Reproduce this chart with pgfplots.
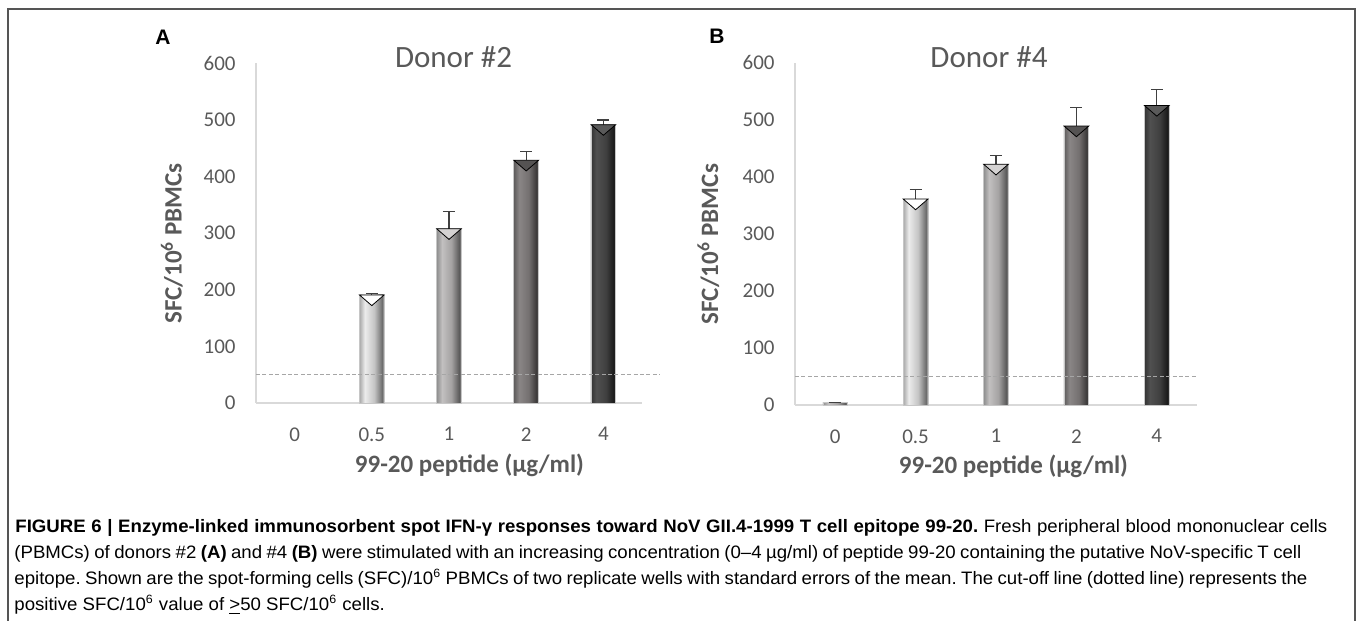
\documentclass[border=0pt]{standalone}
\usepackage{pgfplots}
\pgfplotsset{compat=1.18}
\usepackage{fontspec}
\setmainfont{Carlito}
\newfontfamily\capfont[FakeStretch=1.035]{Liberation Sans}
\newfontfamily\letterfont{Liberation Sans}

\definecolor{txtgray}{HTML}{595959}
\definecolor{axgray}{HTML}{D9D9D9}
\definecolor{cutgray}{HTML}{A6A6A6}
\definecolor{errgray}{HTML}{404040}
\definecolor{framegray}{HTML}{555555}

% bar shadings: left, highlight, mid, dark
\definecolor{aL}{HTML}{A8A8A8}\definecolor{aH}{HTML}{ECECEC}\definecolor{aM}{HTML}{C4C4C4}\definecolor{aD}{HTML}{6C6C6C}
\definecolor{bL}{HTML}{8E8E8E}\definecolor{bH}{HTML}{C2C0C0}\definecolor{bM}{HTML}{A4A2A2}\definecolor{bD}{HTML}{585858}
\definecolor{cL}{HTML}{5E5C5C}\definecolor{cH}{HTML}{8A8686}\definecolor{cM}{HTML}{747070}\definecolor{cD}{HTML}{3A3838}
\definecolor{dL}{HTML}{343434}\definecolor{dH}{HTML}{505050}\definecolor{dM}{HTML}{404040}\definecolor{dD}{HTML}{1A1A1A}
\newcommand\barshade[5]{\pgfdeclarehorizontalshading{#1}{100bp}{color(0bp)=(#2); color(25bp)=(#2); color(36bp)=(#3); color(55bp)=(#4); color(71bp)=(#5); color(75bp)=(#4); color(100bp)=(#4)}}
\barshade{shA}{aL}{aH}{aM}{aD}
\barshade{shB}{bL}{bH}{bM}{bD}
\barshade{shC}{cL}{cH}{cM}{cD}
\barshade{shD}{dL}{dH}{dM}{dD}
\definecolor{triB}{HTML}{D4D2D2}
\definecolor{triC}{HTML}{555353}
\definecolor{triD}{HTML}{5A5A5A}

\pgfplotsset{
  donor/.style={
    scale only axis, anchor=south west,
    xmin=-0.5, xmax=4.5, ymin=0, ymax=600,
    xtick={0,...,4}, xticklabels={0,0.5,1,2,4},
    ytick={0,100,...,600},
    yticklabel={\pgfmathprintnumber{\tick}\hspace*{10pt}},
    axis x line*=bottom, axis y line*=left,
    axis line style={draw=axgray, line width=0.75pt},
    major tick length=0pt,
    /pgf/number format/assume math mode=true,
    tick label style={font=\fontsize{10.5}{12}\selectfont, text=txtgray, inner sep=0pt},
    yticklabel style={anchor=east},
    xticklabel style={yshift=-12pt},
    label style={font=\bfseries\fontsize{12.5}{15}\selectfont, text=txtgray},
    title style={font=\fontsize{15.5}{18}\selectfont, text=txtgray, anchor=base},
    xlabel={99-20 peptide (µg/ml)},
    ylabel={SFC/10\textsuperscript{6} PBMCs},
    clip=false,
  },
  sbar/.style={ybar, bar width=12.4pt, bar shift=0pt, draw=gray!45, line width=0.3pt,
    error bars/y dir=plus, error bars/y explicit,
    error bars/error bar style={draw=errgray, line width=0.6pt},
    error bars/error mark options={rotate=90, draw=errgray, line width=0.6pt, mark size=3pt}},
  bevel/.style={only marks, mark=triangle*, mark size=7.1pt,
    mark options={draw=none, fill=#1, yshift=-1.8pt, yscale=-0.5}},
  cutoff/.style={cutgray, line width=0.5pt, dash pattern=on 2pt off 1.2pt},
}

\begin{document}
\frenchspacing
\begin{tikzpicture}

% panel A
\begin{axis}[donor, at={(128pt,109pt)}, width=193pt, height=169.75pt,
  title={Donor \#2},
  title style={at={(axis description cs:0.5117,0.9514)}},
  xlabel style={at={(axis description cs:0.553,-0.2053)}, anchor=base},
  ylabel style={at={(axis description cs:-0.193,0.47)}, anchor=base},
]
\addplot[ybar, bar width=12.4pt, bar shift=0pt, fill=gray!30, draw=gray!30] coordinates {(0,0)};
\addplot[sbar, shading=shA] coordinates {(1,191) +- (0,3)};
\addplot[sbar, shading=shB] coordinates {(2,308) +- (0,30)};
\addplot[sbar, shading=shC] coordinates {(3,429) +- (0,15)};
\addplot[sbar, shading=shD] coordinates {(4,492) +- (0,8)};
\addplot[bevel=white] coordinates {(1,191)};
\addplot[bevel=triB] coordinates {(2,308)};
\addplot[bevel=triC] coordinates {(3,429)};
\addplot[bevel=triD] coordinates {(4,492)};
\addplot[cutoff] coordinates {(-0.5,50) (4.73,50)};
\end{axis}

% panel B
\begin{axis}[donor, at={(397.5pt,108pt)}, width=201pt, height=171.15pt,
  title={Donor \#4},
  title style={at={(axis description cs:0.4826,0.9515)}},
  xlabel style={at={(axis description cs:0.5435,-0.1995)}, anchor=base},
  ylabel style={at={(axis description cs:-0.1915,0.47)}, anchor=base},
]
\addplot[sbar, shading=shB] coordinates {(0,4) +- (0,1)};
\addplot[sbar, shading=shA] coordinates {(1,361) +- (0,17)};
\addplot[sbar, shading=shB] coordinates {(2,422) +- (0,16)};
\addplot[sbar, shading=shC] coordinates {(3,489) +- (0,33)};
\addplot[sbar, shading=shD] coordinates {(4,525) +- (0,28)};
\addplot[bevel=white] coordinates {(1,361)};
\addplot[bevel=triB] coordinates {(2,422)};
\addplot[bevel=triC] coordinates {(3,489)};
\addplot[bevel=triD] coordinates {(4,525)};
\addplot[cutoff] coordinates {(-0.5,50) (4.5,50)};
\end{axis}

\node[font=\letterfont\bfseries\fontsize{10.5}{12}\selectfont] at (81.5pt,292pt) {A};
\node[font=\letterfont\bfseries\fontsize{10.5}{12}\selectfont] at (358.5pt,292.5pt) {B};

\draw[framegray, line width=0.9pt] (4pt,0pt) -- (4pt,306pt) -- (677.5pt,306pt) -- (677.5pt,0pt);

\begin{scope}[every node/.style={anchor=base west, inner sep=0pt, font=\capfont\fontsize{9}{11}\selectfont}]
\node at (7.5pt,44pt) {\makebox[656pt][s]{{\bfseries FIGURE 6 | Enzyme-linked immunosorbent spot IFN-γ responses toward NoV GII.4-1999 T cell epitope 99-20.} Fresh peripheral blood mononuclear cells}};
\node at (7pt,31pt) {\makebox[643.5pt][s]{(PBMCs) of donors \#2 {\bfseries (A)} and \#4 {\bfseries (B)} were stimulated with an increasing concentration (0–4 µg/ml) of peptide 99-20 containing the putative NoV-specific T cell}};
\node at (7pt,18pt) {\makebox[646.5pt][s]{epitope. Shown are the spot-forming cells (SFC)/10\textsuperscript{6} PBMCs of two replicate wells with standard errors of the mean. The cut-off line (dotted line) represents the}};
\node at (7pt,5pt) {positive SFC/10\textsuperscript{6} value of \underline{>}50 SFC/10\textsuperscript{6} cells.};
\end{scope}

\pgfresetboundingbox
\path (0pt,0pt) rectangle (678.5pt,310.5pt);
\end{tikzpicture}
\end{document}
